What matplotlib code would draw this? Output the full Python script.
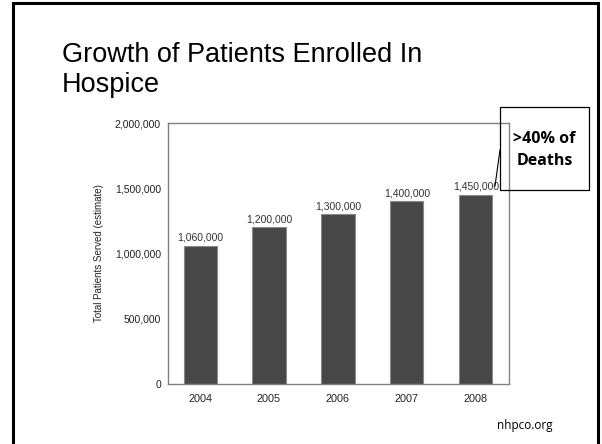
import matplotlib.pyplot as plt
from matplotlib.patches import Rectangle

## DATA ##
years = ['2004', '2005', '2006', '2007', '2008']
patients = [1060000, 1200000, 1300000, 1400000, 1450000]
value_labels = ['1,060,000', '1,200,000', '1,300,000', '1,400,000', '1,450,000']
y_ticks = [0, 500000, 1000000, 1500000, 2000000]
y_tick_labels = ['0', '500,000', '1,000,000', '1,500,000', '2,000,000']

title = 'Growth of Patients Enrolled In\nHospice'
callout = '>40% of\nDeaths'
source = 'nhpco.org'

W, H = 602, 444
fig = plt.figure(figsize=(W / 100, H / 100), dpi=100)

# slide frame
fig.add_artist(Rectangle((13 / W, -0.01), 585 / W, 1 - 3 / H + 0.01,
                         transform=fig.transFigure, fill=False,
                         edgecolor='black', linewidth=2.2))

fig.text(62 / W, 1 - 42 / H, title, fontsize=19.5, family='Liberation Sans',
         va='top', ha='left', linespacing=1.2)

# axes area in pixels
x0, x1, y0, y1 = 168, 509, 123, 384
ax = fig.add_axes([x0 / W, 1 - y1 / H, (x1 - x0) / W, (y1 - y0) / H])
xs = list(range(len(years)))
ax.bar(xs, patients, width=0.48, color='#474747', edgecolor='#8a8a8a', linewidth=0.8)
for x, v, lab in zip(xs, patients, value_labels):
    ax.text(x, v + 25000, lab, ha='center', va='bottom', fontsize=7.5,
            family='Liberation Sans', color='#333333')

ax.set_xlim(-0.465, 4.48)
ax.set_ylim(0, 2000000)
ax.set_xticks(xs)
ax.set_xticklabels(years, fontsize=7.8, family='Liberation Sans', color='#222222')
ax.set_yticks(y_ticks)
ax.set_yticklabels(y_tick_labels, fontsize=7.5, family='Liberation Sans', color='#222222')
ax.tick_params(axis='y', length=0, pad=5)
ax.tick_params(axis='x', length=0, pad=7)
for s in ax.spines.values():
    s.set_color('#808080')
    s.set_linewidth(1.0)
ax.set_ylabel('Total Patients Served (estimate)', fontsize=7.0,
              family='Liberation Sans', color='#222222', labelpad=8)

# callout box
bx0, bx1, by0, by1 = 500, 589, 107, 190
fig.add_artist(Rectangle((bx0 / W, 1 - by1 / H), (bx1 - bx0) / W, (by1 - by0) / H,
                         transform=fig.transFigure, fill=False,
                         edgecolor='black', linewidth=0.9, zorder=5))
fig.text((bx0 + bx1) / 2 / W, 1 - 150 / H, callout, ha='center', va='center',
         fontsize=11.5, fontweight='bold', family='Open Sans', linespacing=1.45,
         zorder=6)
fig.add_artist(plt.Line2D([495 / W, 500 / W], [1 - 186 / H, 1 - 150 / H],
                          transform=fig.transFigure, color='black', linewidth=0.8, zorder=6))

fig.text(497 / W, 1 - 425 / H, source, fontsize=8.5, family='Open Sans',
         ha='left', va='center')

plt.savefig('out.png', dpi=100)
